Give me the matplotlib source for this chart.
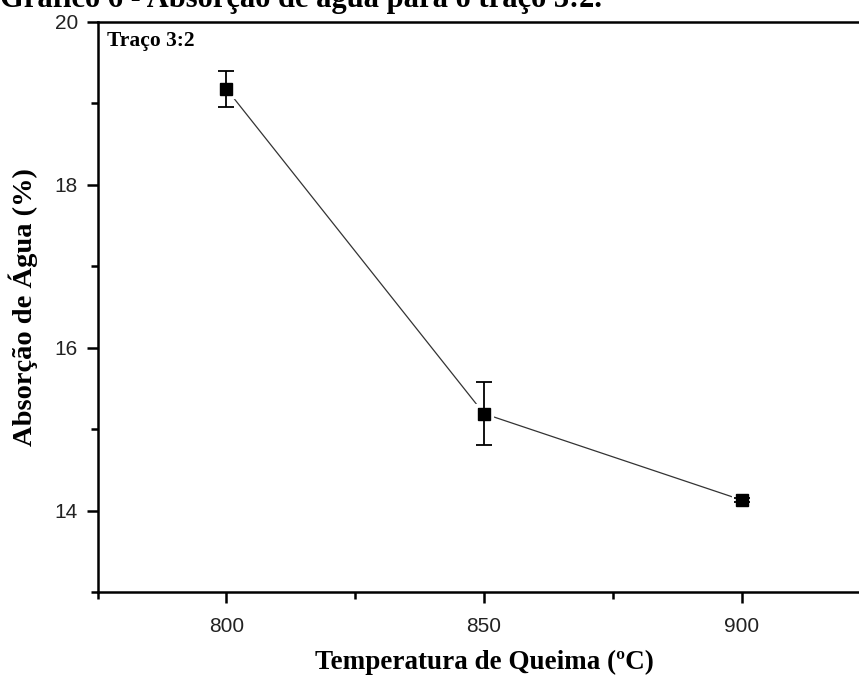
import matplotlib
matplotlib.use("Agg")
import matplotlib.pyplot as plt
from matplotlib.ticker import MultipleLocator

temperatures = [800, 850, 900]
absorption = [19.18, 15.19, 14.13]
errors = [0.22, 0.39, 0.03]

fig = plt.figure(figsize=(8.59, 6.75), dpi=100)
ax = fig.add_axes([97.5/859, 1 - 592/675, 773/859, 570/675])

serif = ['Liberation Serif', 'DejaVu Serif']
sans = ['Liberation Sans Narrow', 'Liberation Sans', 'DejaVu Sans']

ax.plot(temperatures, absorption, color='#333333', lw=0.9, zorder=1)
ax.plot(temperatures, absorption, ls='none', marker='s', ms=11, mfc='black',
        mec='white', mew=3, zorder=2)
ax.errorbar(temperatures, absorption, yerr=errors, fmt='none', ecolor='black',
            elinewidth=1.3, capsize=6, capthick=1.3, zorder=3)
ax.plot(temperatures, absorption, ls='none', marker='s', ms=9, mfc='black',
        mec='black', mew=1, zorder=4)

ax.set_xlim(775, 925)
ax.set_ylim(13, 20)
ax.xaxis.set_major_locator(MultipleLocator(50))
ax.xaxis.set_minor_locator(MultipleLocator(25))
ax.yaxis.set_major_locator(MultipleLocator(2))
ax.yaxis.set_minor_locator(MultipleLocator(1))

for s in ['left', 'bottom', 'top']:
    ax.spines[s].set_linewidth(1.8)
ax.spines['right'].set_visible(False)

ax.tick_params(which='major', direction='out', length=8, width=1.8, pad=6)
ax.tick_params(which='minor', direction='out', length=5, width=1.8)
ax.tick_params(axis='x', which='major', pad=10)
for lbl in ax.get_xticklabels() + ax.get_yticklabels():
    lbl.set_family(sans)
    lbl.set_fontsize(15)
    lbl.set_color('#222222')

ax.set_xlabel('Temperatura de Queima (ºC)', family=serif, fontweight='bold',
              fontsize=19.5, labelpad=10)
ax.set_ylabel('Absorção de Água (%)', family=serif, fontweight='bold',
              fontsize=20.5, labelpad=12)

ax.text(0.012, 0.985, 'Traço 3:2', transform=ax.transAxes, family=serif,
        fontweight='bold', fontsize=15.5, va='top', ha='left')

fig.text(0.0, 1 - 7/675, 'Gráfico 6 - Absorção de água para o traço 3:2.',
         family=serif, fontweight='bold', fontsize=22, va='baseline', ha='left')

fig.savefig('out.png', dpi=100)
